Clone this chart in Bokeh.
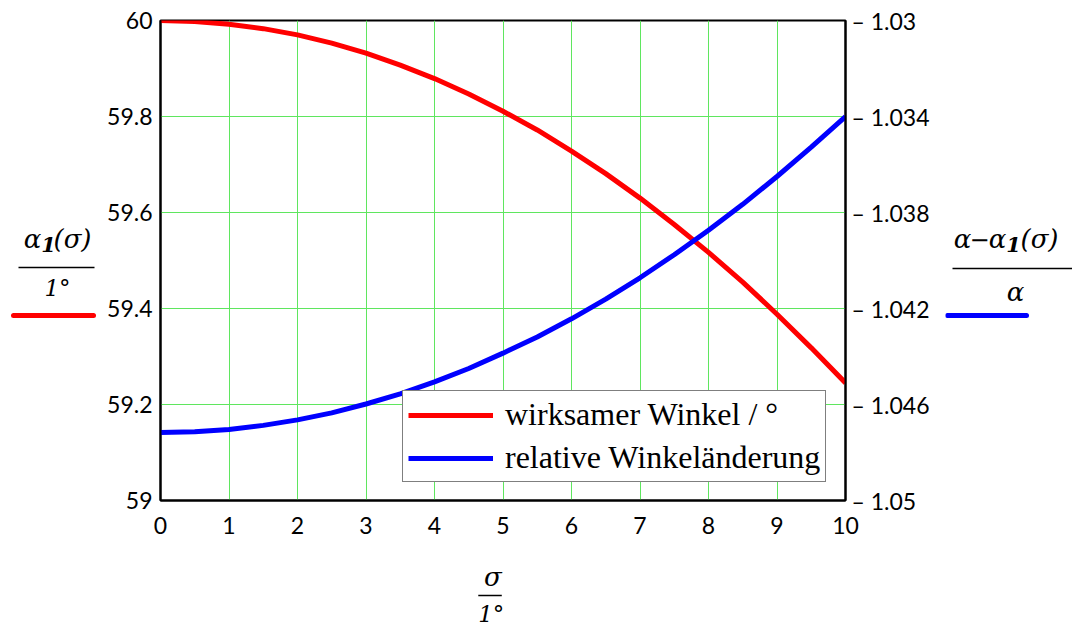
from bokeh.plotting import figure
from bokeh.layouts import row, column
from bokeh.models import (Range1d, LinearAxis, FixedTicker, CustomJSTickFormatter,
                          Legend, LegendItem)
from bokeh.core.properties import value
from bokeh.embed import file_html
from bokeh.resources import INLINE

# ---- data ----
sigma = [0, 0.5, 1, 1.5, 2, 2.5, 3, 3.5, 4, 4.5, 5, 5.5, 6, 6.5, 7, 7.5, 8, 8.5, 9, 9.5, 10]
alpha1 = [60.0, 59.998, 59.992, 59.983, 59.970, 59.953, 59.932, 59.907, 59.879, 59.847,
          59.811, 59.772, 59.728, 59.681, 59.630, 59.575, 59.517, 59.455, 59.388, 59.318, 59.245]
rel = [-1.04717, -1.04714, -1.04704, -1.04687, -1.04664, -1.04635, -1.04598, -1.04556,
       -1.04506, -1.04450, -1.04386, -1.04319, -1.04243, -1.04161, -1.04072, -1.03976,
       -1.03874, -1.03766, -1.03650, -1.03528, -1.03400]
x_ticks = [0, 1, 2, 3, 4, 5, 6, 7, 8, 9, 10]
y_ticks = [59.0, 59.2, 59.4, 59.6, 59.8, 60.0]
yr_ticks = [-1.05, -1.046, -1.042, -1.038, -1.034, -1.03]
legend_labels = ["wirksamer Winkel / °", "relative Winkeländerung"]

# ---- page geometry (pixels) ----
TOTAL_W, TOTAL_H = 1072, 626
LEFT_W = 100            # left title strip
RIGHT_X0 = 945          # right title strip starts here
MAIN_H = 560
FL, FR, FT, FB = 160, 845, 20, 500   # plot frame edges in page pixels
GREEN = "#5fe65f"
TICK_FONT = "Lato"
MATH_FONT = "DejaVu Serif"

main = figure(width=RIGHT_X0 - LEFT_W, height=MAIN_H, output_backend="svg", toolbar_location=None,
              x_range=Range1d(0, 10), y_range=Range1d(59, 60),
              min_border_left=FL - LEFT_W, min_border_right=RIGHT_X0 - FR,
              min_border_top=FT, min_border_bottom=MAIN_H - FB,
              background_fill_color="white", border_fill_color="white")
main.extra_y_ranges = {"r": Range1d(-1.05, -1.03)}
main.outline_line_color = "black"
main.outline_line_width = 2

main.xgrid.ticker = FixedTicker(ticks=x_ticks)
main.ygrid.ticker = FixedTicker(ticks=y_ticks)
for g in (main.xgrid, main.ygrid):
    g.grid_line_color = GREEN
    g.grid_line_width = 1

xax = main.xaxis[0]
lax = main.yaxis[0]
xax.ticker = FixedTicker(ticks=x_ticks)
xax.major_label_standoff = 16
lax.ticker = FixedTicker(ticks=y_ticks)
lax.major_label_standoff = 8
lax.formatter = CustomJSTickFormatter(code="return (Math.round(tick*10)/10).toString();")

rax = LinearAxis(y_range_name="r", ticker=FixedTicker(ticks=yr_ticks),
                 formatter=CustomJSTickFormatter(
                     code="return '\u2013 ' + Math.abs(tick).toFixed(3).replace(/0$/, '');"))
rax.major_label_standoff = 6
main.add_layout(rax, "right")
for ax in (xax, lax, rax):
    ax.axis_line_color = "black"
    ax.axis_line_width = 2
    ax.major_tick_out = 0
    ax.major_tick_in = 0
    ax.minor_tick_out = 0
    ax.minor_tick_in = 0
    ax.major_label_text_font = TICK_FONT
    ax.major_label_text_font_size = "23px"
    ax.major_label_text_color = "black"

r1 = main.line(sigma, alpha1, line_color="#ff0000", line_width=5)
r2 = main.line(sigma, rel, line_color="#0000ff", line_width=5, y_range_name="r")

legend = Legend(items=[LegendItem(label=legend_labels[0], renderers=[r1]),
                       LegendItem(label=legend_labels[1], renderers=[r2])],
                location=(242, 18))
legend.label_text_font = "Liberation Serif"
legend.label_text_font_size = "32px"
legend.label_text_color = "black"
legend.glyph_width = 85
legend.glyph_height = 36
legend.label_height = 36
legend.label_standoff = 12
legend.spacing = 6
legend.padding = 5
legend.margin = 0
legend.border_line_color = "black"
legend.border_line_width = 1.5
legend.background_fill_color = "white"
legend.background_fill_alpha = 1
main.add_layout(legend, "center")


def strip(x0, x1, y0, y1):
    """Blank figure whose data coordinates equal page pixels (y downwards)."""
    f = figure(width=x1 - x0, height=y1 - y0, output_backend="svg", toolbar_location=None,
               x_range=Range1d(x0, x1), y_range=Range1d(y1, y0),
               x_axis_location=None, y_axis_location=None,
               min_border=0, min_border_left=0, min_border_right=0,
               min_border_top=0, min_border_bottom=0,
               background_fill_color="white", border_fill_color="white")
    f.outline_line_color = None
    f.xgrid.visible = False
    f.ygrid.visible = False
    return f


def txt(f, s, X, Y, size="26px", style="italic"):
    f.text(x=[X], y=[Y], text=[s], text_font=value(MATH_FONT), text_font_size=value(size),
           text_font_style=style, text_align="center", text_baseline="middle", text_color="black")


def rule(f, X0, X1, Y, w, color, cap="butt"):
    f.line(x=[X0, X1], y=[Y, Y], line_width=w, line_color=color, line_cap=cap)


# left title: alpha_1(sigma) / 1deg, with red key
left = strip(0, LEFT_W, 0, TOTAL_H)
txt(left, "α", 32, 238)
txt(left, "1", 48, 244, size="21px", style="bold italic")
txt(left, "(σ)", 72, 238)
rule(left, 18, 94, 267, 1.5, "black")
txt(left, "1°", 57, 287, size="23px")
rule(left, 13, 93, 315, 5, "#ff0000", cap="round")

# right title: (alpha - alpha_1(sigma)) / alpha, with blue key
right = strip(RIGHT_X0, TOTAL_W, 0, TOTAL_H)
txt(right, "α", 962, 238)
txt(right, "−", 979, 238, size="24px", style="normal")
txt(right, "α", 997, 238)
txt(right, "1", 1013, 244, size="21px", style="bold italic")
txt(right, "(σ)", 1039, 238)
rule(right, 952, 1072, 268, 1.5, "black")
txt(right, "α", 1015, 291)
rule(right, 947, 1026, 315, 5, "#0000ff", cap="round")

# bottom title: sigma / 1deg
bottom = strip(LEFT_W, RIGHT_X0, MAIN_H, TOTAL_H)
txt(bottom, "σ", 510, 576)
rule(bottom, 492, 521, 595, 1.5, "black")
txt(bottom, "1°", 508, 613, size="23px")

layout = row(left, column(main, bottom, spacing=0), right, spacing=0)
open("out.html", "w").write(file_html(layout, INLINE))
